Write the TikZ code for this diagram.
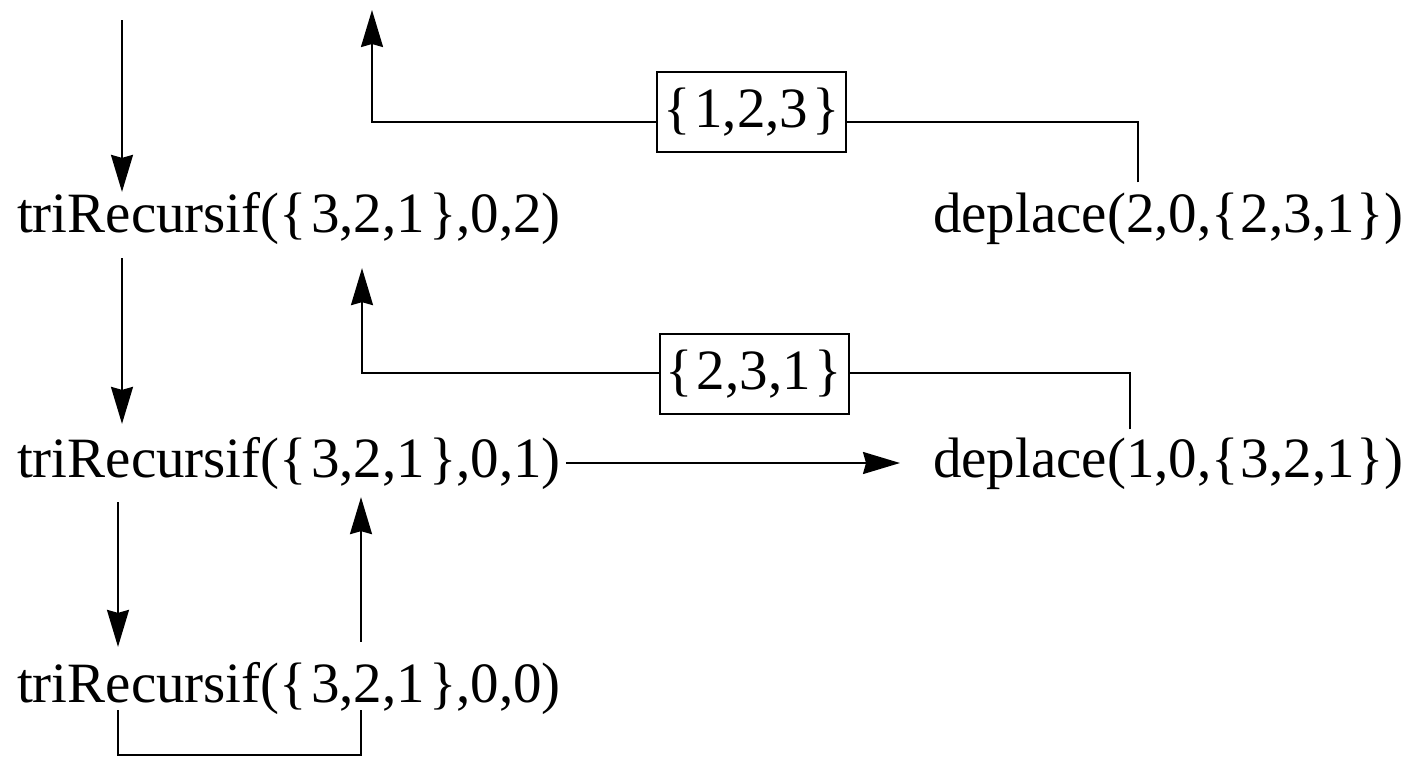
\documentclass[tikz,border=0pt]{standalone}
\usepackage{fontspec}
\setmainfont{Liberation Serif}
\usetikzlibrary{arrows.meta}
\newcommand\mysetof[1]{\{\kern4pt#1\kern4pt\}}
\newcommand\mysetofn[1]{\{\kern2pt#1\kern2pt\}}
\begin{document}
\begin{tikzpicture}[x=1pt,y=-1pt,
  lbl/.style={anchor=base west,inner sep=0pt,outer sep=0pt,font=\fontsize{57}{68}\selectfont},
  setbox/.style={draw,line width=2pt,inner sep=0pt,minimum width=189pt,minimum height=80pt,font=\fontsize{57}{68}\selectfont},
  conn/.style={line width=2pt},
  arr/.style={line width=2pt,-{Stealth[length=37pt,width=22pt,inset=3pt]}}]
\useasboundingbox (0,0) rectangle (1411,758);
% nodes
\node[lbl] (A) at (17,232) {triRecursif(\mysetof{3,2,1},0,2)};
\node[lbl] (B) at (17,477) {triRecursif(\mysetof{3,2,1},0,1)};
\node[lbl] (C) at (17,702) {triRecursif(\mysetof{3,2,1},0,0)};
\node[lbl] (D2) at (933,232) {deplace(2,0,\mysetofn{2,3,1})};
\node[lbl] (D1) at (933,477) {deplace(1,0,\mysetofn{3,2,1})};
\node[setbox] (S1) at (751.5,112) {\mysetof{1,2,3}};
\node[setbox] (S2) at (754,374) {\mysetof{2,3,1}};
% free ends and bends
\coordinate (in) at (122,20);
\coordinate (out) at (372,10);
\coordinate (b1) at (1138,122);
\coordinate (b2) at (1130,373);
% left column
\draw[arr] (in) -- (in |- A.north);
\draw[arr,shorten <=14pt,shorten >=13pt] (A.south -| 122,0) -- (B.north -| 122,0);
\draw[arr,shorten <=13pt,shorten >=15pt] (B.south -| 118,0) -- (C.north -| 118,0);
\draw[arr,shorten <=20pt,shorten >=8pt] (C.north -| 361,0) -- (B.south -| 361,0);
\draw[conn] (C.base -| 118,0) ++(0,8) -- (118,755) -- (361,755) -- ++(0,-45);
% call
\draw[arr,shorten <=5pt,shorten >=33pt] (B.east |- 0,463) -- (D1.west |- 0,463);
% returns
\draw[conn,shorten <=8pt] (D1.north -| b2) -- (b2) -- (S2.east |- b2);
\draw[arr,shorten >=24pt] (S2.west |- b2) -- (362,373) -- (A.south -| 362,0);
\draw[conn,shorten <=10pt] (D2.north -| b1) -- (b1) -- (S1.east |- b1);
\draw[arr] (S1.west |- b1) -- (out |- b1) -- (out);
\end{tikzpicture}
\end{document}
